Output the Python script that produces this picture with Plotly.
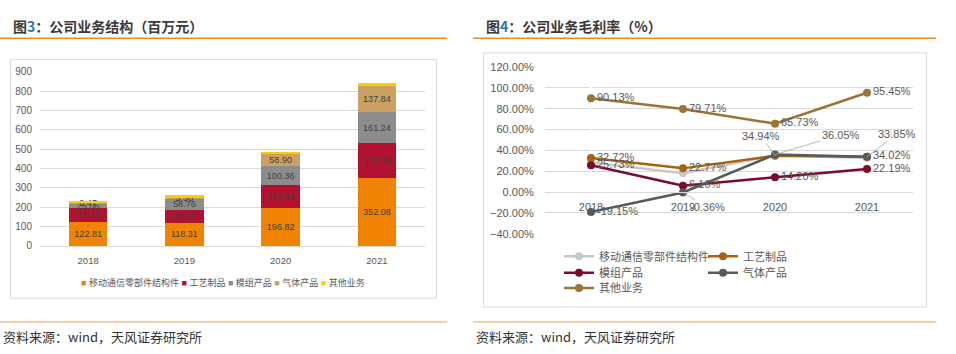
import plotly.graph_objects as go

W, H = 956, 354
FONT = "Liberation Sans, Arial, Noto Sans CJK SC, sans-serif"

# ---------- data ----------
years = ["2018", "2019", "2020", "2021"]
bar_names = ["移动通信零部件结构件", "工艺制品", "模组产品", "气体产品", "其他业务"]
rev_mobile = [122.81, 118.31, 196.82, 352.08]
rev_craft = [71.49, 66.62, 116.93, 178.34]
rev_module = [25.06, 58.76, 100.36, 161.24]
rev_gas = [0.47, 5.58, 58.90, 137.84]
rev_other = [14.0, 13.0, 13.0, 13.0]
bar_colors = ["#F08300", "#B2112F", "#8C8C8C", "#C9A263", "#FFCC00"]
bar_label_show = [True, True, True, True, False]

line_names = ["移动通信零部件结构件", "工艺制品", "模组产品", "气体产品", "其他业务"]
gm_mobile = [28.5, 18.2, 35.3, 32.8]
gm_craft = [32.72, 22.77, 34.94, 33.85]
gm_module = [25.73, 6.16, 14.20, 22.19]
gm_gas = [-19.15, -0.36, 36.05, 34.02]
gm_other = [90.13, 79.71, 65.73, 95.45]
line_colors = ["#C8C8C8", "#A9620E", "#7A0A2E", "#595959", "#9A7434"]
line_label_show = [False, True, True, True, True]
# points whose labels use a leader line: (series index, year index, dx, dy)
leader_labels = [(1, 2, -14, -20), (1, 3, 30, -23), (3, 1, 24, 15), (3, 2, 66, -20)]

y1_ticks = list(range(0, 1000, 100))
y2_range = [-40, 120]
x_idx = list(range(len(years)))

def px_x(p):
    return p / W

def px_y(p):
    return 1 - p / H

fig = go.Figure()

# ---------- left: stacked bars ----------
bar_series = [rev_mobile, rev_craft, rev_module, rev_gas, rev_other]
for name, vals, col, show in zip(bar_names, bar_series, bar_colors, bar_label_show):
    fig.add_trace(go.Bar(
        x=x_idx, y=vals, name=name, marker=dict(color=col, line=dict(width=0)),
        text=[f"{v:.2f}" for v in vals] if show else None,
        textposition="inside", insidetextanchor="middle", constraintext="none",
        textfont=dict(size=9, color="#404040", family=FONT),
        xaxis="x", yaxis="y", showlegend=False, hoverinfo="skip",
    ))

# ---------- right: lines ----------
line_series = [gm_mobile, gm_craft, gm_module, gm_gas, gm_other]
leader_set = {(s, i) for s, i, _, _ in leader_labels}
for k, (name, vals, col, show) in enumerate(zip(line_names, line_series, line_colors, line_label_show)):
    texts = []
    for i, v in enumerate(vals):
        if show and (k, i) not in leader_set:
            texts.append(f"{v:.2f}%")
        else:
            texts.append("")
    fig.add_trace(go.Scatter(
        x=x_idx, y=vals, name=name, mode="lines+markers+text",
        line=dict(color=col, width=2.5), marker=dict(color=col, size=8),
        text=texts, textposition="middle right",
        textfont=dict(size=11, color="#595959", family=FONT),
        xaxis="x2", yaxis="y2", legend=f"legend{k + 2}", hoverinfo="skip",
        cliponaxis=False,
    ))

annotations = []
for s, i, dx, dy in leader_labels:
    v = line_series[s][i]
    annotations.append(dict(
        x=x_idx[i], y=v, xref="x2", yref="y2", text=f"{v:.2f}%",
        showarrow=True, arrowhead=0, arrowwidth=0.8, arrowcolor="#A6A6A6",
        ax=dx, ay=dy, font=dict(size=11, color="#595959", family=FONT),
    ))

# left legend as a compact text line
leg_parts = []
for name, col in zip(bar_names, bar_colors):
    leg_parts.append(f"<span style='color:{col}'>■</span> {name}")
annotations.append(dict(
    x=px_x(223), y=px_y(286), xref="paper", yref="paper", showarrow=False,
    text=" ".join(leg_parts), font=dict(size=9, color="#595959", family=FONT),
    xanchor="center", yanchor="middle",
))

# titles and sources
annotations += [
    dict(x=px_x(11), y=px_y(21), xref="paper", yref="paper", showarrow=False,
         xanchor="left", yanchor="middle",
         text="<b>图<span style='color:#2E75B6'>3</span>：公司业务结构（百万元）</b>",
         font=dict(size=14, color="#3A3A3A", family="Noto Sans CJK SC, sans-serif")),
    dict(x=px_x(484), y=px_y(21), xref="paper", yref="paper", showarrow=False,
         xanchor="left", yanchor="middle",
         text="<b>图<span style='color:#2E75B6'>4</span>：公司业务毛利率（%）</b>",
         font=dict(size=14, color="#3A3A3A", family="Noto Sans CJK SC, sans-serif")),
    dict(x=px_x(1), y=px_y(342), xref="paper", yref="paper", showarrow=False,
         xanchor="left", yanchor="middle", text="资料来源：wind，天风证券研究所",
         font=dict(size=13, color="#333333", family="Noto Sans CJK SC, sans-serif")),
    dict(x=px_x(474), y=px_y(342), xref="paper", yref="paper", showarrow=False,
         xanchor="left", yanchor="middle", text="资料来源：wind，天风证券研究所",
         font=dict(size=13, color="#333333", family="Noto Sans CJK SC, sans-serif")),
]

shapes = [
    dict(type="line", xref="paper", yref="paper", x0=px_x(0), x1=px_x(447), y0=px_y(33.5), y1=px_y(33.5),
         line=dict(color="#F08A24", width=1.5)),
    dict(type="line", xref="paper", yref="paper", x0=px_x(473), x1=px_x(936), y0=px_y(33.5), y1=px_y(33.5),
         line=dict(color="#F08A24", width=1.5)),
    dict(type="line", xref="paper", yref="paper", x0=px_x(0), x1=px_x(447), y0=px_y(327), y1=px_y(327),
         line=dict(color="#F9BE8F", width=1.5)),
    dict(type="line", xref="paper", yref="paper", x0=px_x(473), x1=px_x(936), y0=px_y(327), y1=px_y(327),
         line=dict(color="#F9BE8F", width=1.5)),
    dict(type="rect", xref="paper", yref="paper", x0=px_x(10.5), x1=px_x(436.5), y0=px_y(302.5), y1=px_y(55.5),
         line=dict(color="#D9D9D9", width=1), layer="below"),
    dict(type="rect", xref="paper", yref="paper", x0=px_x(483.5), x1=px_x(926.5), y0=px_y(311.5), y1=px_y(48.5),
         line=dict(color="#D9D9D9", width=1), layer="below"),
]

y2_dom = [px_y(235.7), px_y(63.3)]
zero_pos = y2_dom[0] + (0 - y2_range[0]) / (y2_range[1] - y2_range[0]) * (y2_dom[1] - y2_dom[0])

axis_font = dict(size=10, color="#595959", family=FONT)
fig.update_layout(
    width=W, height=H, margin=dict(l=0, r=0, t=0, b=0, pad=0),
    paper_bgcolor="white", plot_bgcolor="white",
    barmode="stack", bargap=0.6,
    font=dict(family=FONT),
    xaxis=dict(domain=[px_x(40), px_x(425)], range=[-0.5, len(years) - 0.5],
               tickvals=x_idx, ticktext=years, showgrid=False,
               showline=True, linecolor="#D9D9D9", ticks="outside", ticklen=6,
               tickcolor="rgba(0,0,0,0)", tickfont=dict(size=9.5, color="#595959", family=FONT),
               fixedrange=True),
    yaxis=dict(domain=[px_y(248.3), px_y(68.3)], range=[0, 900], tickvals=y1_ticks,
               showgrid=True, gridcolor="#D9D9D9", gridwidth=1, zeroline=False, showline=False,
               tickfont=axis_font, ticks="outside", ticklen=5, tickcolor="rgba(0,0,0,0)"),
    xaxis2=dict(domain=[px_x(545), px_x(913)], range=[-0.5, len(years) - 0.5],
                tickvals=x_idx, ticktext=years, anchor="free", position=zero_pos,
                showgrid=False, showline=True, linecolor="#D9D9D9", ticks="outside", ticklen=5,
                tickcolor="rgba(0,0,0,0)", tickfont=dict(size=11, color="#595959", family=FONT)),
    yaxis2=dict(domain=y2_dom, range=y2_range, dtick=20, tickformat=".2f", ticksuffix="%",
                showgrid=True, gridcolor="#D9D9D9", zeroline=False, anchor="x2",
                tickfont=dict(size=11, color="#595959", family=FONT),
                ticks="outside", ticklen=8, tickcolor="rgba(0,0,0,0)"),
    annotations=annotations, shapes=shapes,
)

leg_pos = [(565, 259), (709, 259), (565, 276), (709, 276), (565, 292)]
for k, (lx, ly) in enumerate(leg_pos):
    fig.update_layout({f"legend{k + 2}": dict(
        x=px_x(lx - 6), y=px_y(ly), xanchor="left", yanchor="middle",
        orientation="h", bgcolor="rgba(0,0,0,0)", borderwidth=0,
        font=dict(size=11, color="#595959", family="Noto Sans CJK SC, sans-serif"),
        itemclick=False, itemdoubleclick=False,
    )})

fig.write_html("out.html")
